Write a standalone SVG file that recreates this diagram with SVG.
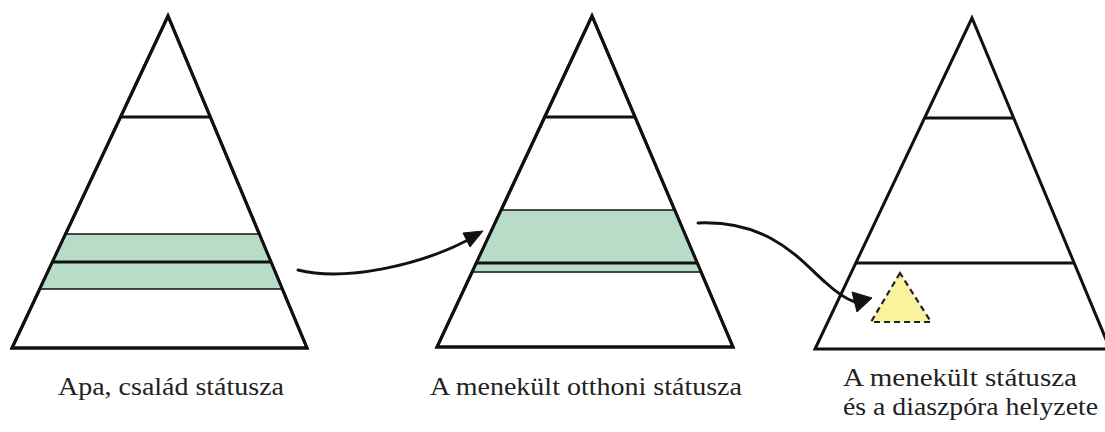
<svg xmlns="http://www.w3.org/2000/svg" width="1105" height="432" viewBox="0 0 1105 432">
<style>
.bg{fill:#ffffff}
.outline{fill:#ffffff;stroke:#111;stroke-width:3;stroke-linejoin:miter}
.thick{stroke:#111;stroke-width:3;fill:none}
.thin{stroke:#111;stroke-width:1.6;fill:none}
.green{fill:#b7dcc8;stroke:none}
.yellow{fill:#f8f39c;stroke:#222;stroke-width:2.2;stroke-dasharray:6 4}
.conn{fill:none;stroke:#111;stroke-width:3;stroke-linecap:round}
.head{fill:#111;stroke:#111;stroke-width:1;stroke-linejoin:round}
.label{font-family:"Liberation Serif","DejaVu Serif",serif;font-size:25px;fill:#222}
</style>
<rect class="bg" x="0" y="0" width="1105" height="432"/>

<g id="pyramid1">
  <polygon class="outline" points="168,16 12,348 307,348"/>
  <polygon class="green" points="65.6,234 259.3,234 282.3,289 39.7,289"/>
  <line class="thick" x1="120.5" y1="117" x2="210.3" y2="117"/>
  <line class="thin" x1="65.6" y1="234" x2="259.3" y2="234"/>
  <line class="thick" x1="52.4" y1="262" x2="271" y2="262"/>
  <line class="thin" x1="39.7" y1="289" x2="282.3" y2="289"/>
  <polygon points="168,16 12,348 307,348" fill="none" stroke="#111" stroke-width="3"/>
</g>

<g id="pyramid2">
  <polygon class="outline" points="592,16 437,347 733,347"/>
  <polygon class="green" points="501.1,210 674.6,210 701,272 472.1,272"/>
  <line class="thick" x1="544.7" y1="117" x2="635" y2="117"/>
  <line class="thin" x1="501.1" y1="210" x2="674.6" y2="210"/>
  <line class="thick" x1="476.3" y1="263" x2="697.2" y2="263"/>
  <line class="thin" x1="472.1" y1="272" x2="701" y2="272"/>
  <polygon points="592,16 437,347 733,347" fill="none" stroke="#111" stroke-width="3"/>
</g>

<g id="pyramid3">
  <polygon class="outline" points="972,18 815,349 1110,349"/>
  <line class="thick" x1="924.6" y1="118" x2="1013.7" y2="118"/>
  <line class="thick" x1="855.8" y1="263" x2="1074.1" y2="263"/>
  <polygon class="yellow" points="900,273 871,322 931,322"/>
</g>

<g id="connectors">
  <path class="conn" d="M298,270 C345,282 420,265 468,240"/>
  <polygon class="head" points="483,231 463,233 470,247"/>
  <path class="conn" d="M698,223 C770,220 800,260 825,282 C838,294 846,299 855,302"/>
  <polygon class="head" points="872,298 852,292 857,312"/>
</g>

<g id="labels">
  <text class="label" x="58" y="395" textLength="226" lengthAdjust="spacingAndGlyphs">Apa, család státusza</text>
  <text class="label" x="430" y="395" textLength="312" lengthAdjust="spacingAndGlyphs">A menekült otthoni státusza</text>
  <text class="label" x="843" y="386" textLength="234" lengthAdjust="spacingAndGlyphs">A menekült státusza</text>
  <text class="label" x="843" y="415" textLength="255" lengthAdjust="spacingAndGlyphs">és a diaszpóra helyzete</text>
</g>
</svg>
